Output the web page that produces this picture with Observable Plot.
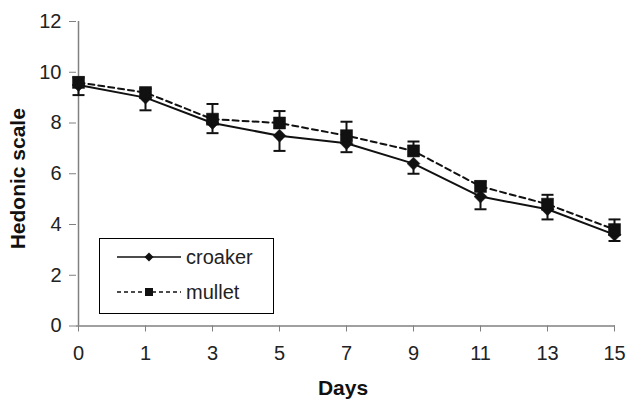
<!DOCTYPE html>
<html><head><meta charset="utf-8">
<script src="https://cdn.jsdelivr.net/npm/d3@7"></script>
<script src="https://cdn.jsdelivr.net/npm/@observablehq/plot@0.6"></script>
<style>
body{margin:0;background:#fff;font-family:"Liberation Sans",Arial,sans-serif}
#wrap{position:relative;width:629px;height:400px}
#legend{position:absolute;left:99px;top:238px;width:175px;height:76px;border:1px solid #000;background:#fff;box-sizing:border-box}
#legend svg{display:block}
</style></head>
<body><div id="wrap"><div id="chart"></div><div id="legend"></div></div>
<script>
const days = ["0","1","3","5","7","9","11","13","15"];
const croaker = [9.5, 9.0, 8.0, 7.5, 7.2, 6.4, 5.1, 4.6, 3.6];
const croakerSD = [0.4, 0.5, 0.4, 0.6, 0.35, 0.4, 0.5, 0.4, 0.25];
const mullet = [9.6, 9.2, 8.15, 8.0, 7.5, 6.9, 5.5, 4.8, 3.8];
const mulletSD = [0.2, 0.15, 0.6, 0.47, 0.55, 0.37, 0.2, 0.37, 0.4];
const yTicks = [0, 2, 4, 6, 8, 10, 12];
const seriesNames = ["croaker", "mullet"];
const xTitle = "Days";
const yTitle = "Hedonic scale";

const data = days.map((d, i) => ({day: d, c: croaker[i], cSD: croakerSD[i], m: mullet[i], mSD: mulletSD[i]}));
const cap = {draw(ctx, size) { const w = Math.sqrt(size / Math.PI); ctx.moveTo(-w, 0); ctx.lineTo(w, 0); }};
const ink = "#111";
const axisGray = "#808080";

const chart = Plot.plot({
  width: 629, height: 400,
  marginLeft: 76, marginRight: 14, marginTop: 21, marginBottom: 74.5,
  x: {type: "point", domain: days, padding: 0},
  y: {domain: [0, 12]},
  style: {fontFamily: "'Liberation Sans', Arial, sans-serif", color: "#222", background: "white"},
  marks: [
    Plot.axisY({ticks: yTicks, tickSize: 7, tickPadding: 8, fontSize: 20, stroke: axisGray, fill: "#222", label: null}),
    Plot.axisX({tickSize: 6, tickPadding: 14, fontSize: 20, stroke: axisGray, fill: "#222", label: null}),
    Plot.ruleY([0], {stroke: axisGray, strokeWidth: 1.5}),
    Plot.ruleX([days[0]], {stroke: axisGray, strokeWidth: 1.5}),
    // croaker
    Plot.ruleX(data, {x: "day", y1: "c", y2: d => d.c - d.cSD, stroke: ink, strokeWidth: 2}),
    Plot.dot(data, {x: "day", y: d => d.c - d.cSD, symbol: cap, r: 6, stroke: ink, strokeWidth: 2}),
    Plot.line(data, {x: "day", y: "c", stroke: ink, strokeWidth: 2}),
    Plot.dot(data, {x: "day", y: "c", symbol: "diamond2", r: 5.8, fill: ink, stroke: ink, strokeWidth: 0.5}),
    // mullet
    Plot.ruleX(data, {x: "day", y1: "m", y2: d => d.m + d.mSD, stroke: ink, strokeWidth: 2}),
    Plot.dot(data, {x: "day", y: d => d.m + d.mSD, symbol: cap, r: 6, stroke: ink, strokeWidth: 2}),
    Plot.line(data, {x: "day", y: "m", stroke: ink, strokeWidth: 2, strokeDasharray: "6,4"}),
    Plot.dot(data, {x: "day", y: "m", symbol: "square", r: 6.8, fill: ink, stroke: ink, strokeWidth: 0.5}),
    Plot.text([yTitle], {frameAnchor: "left", textAnchor: "middle", lineAnchor: "middle", rotate: -90, dx: -58, dy: 5, fontSize: 21, fontWeight: "bold", fill: "#111"}),
    Plot.text([xTitle], {frameAnchor: "bottom", textAnchor: "middle", lineAnchor: "middle", dy: 62, dx: -3, fontSize: 21, fontWeight: "bold", fill: "#111"})
  ]
});
document.getElementById("chart").append(chart);

// legend
const NS = "http://www.w3.org/2000/svg";
const lg = document.createElementNS(NS, "svg");
lg.setAttribute("width", 173); lg.setAttribute("height", 74);
const rowsY = [18, 53];
seriesNames.forEach((name, i) => {
  const y = rowsY[i];
  const line = document.createElementNS(NS, "line");
  line.setAttribute("x1", 17); line.setAttribute("x2", 81);
  line.setAttribute("y1", y); line.setAttribute("y2", y);
  line.setAttribute("stroke", ink); line.setAttribute("stroke-width", 1.5);
  if (i === 1) line.setAttribute("stroke-dasharray", "4,3");
  lg.append(line);
  let m;
  if (i === 0) {
    m = document.createElementNS(NS, "path");
    m.setAttribute("d", `M49,${y-4.5}L53.5,${y}L49,${y+4.5}L44.5,${y}Z`);
  } else {
    m = document.createElementNS(NS, "rect");
    m.setAttribute("x", 45); m.setAttribute("y", y - 4); m.setAttribute("width", 8); m.setAttribute("height", 8);
  }
  m.setAttribute("fill", ink);
  lg.append(m);
  const t = document.createElementNS(NS, "text");
  t.setAttribute("x", 86); t.setAttribute("y", y); t.setAttribute("dy", "0.35em");
  t.setAttribute("font-size", 20); t.setAttribute("fill", "#222");
  t.setAttribute("font-family", "'Liberation Sans', Arial, sans-serif");
  t.textContent = name;
  lg.append(t);
});
document.getElementById("legend").append(lg);
</script></body></html>
